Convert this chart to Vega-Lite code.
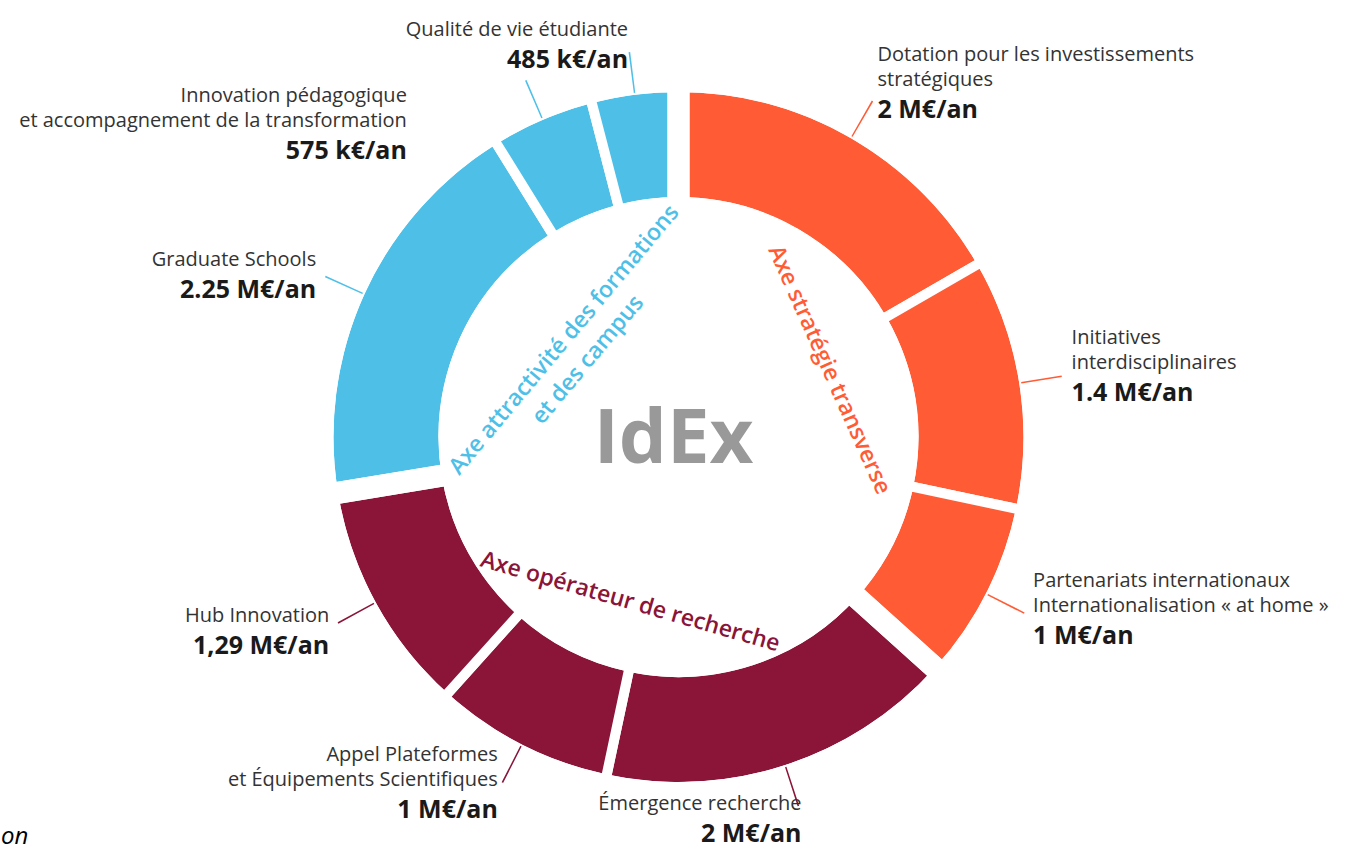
{
  "$schema": "https://vega.github.io/schema/vega-lite/v6.json",
  "width": 1337,
  "height": 848,
  "autosize": {"type": "none"},
  "padding": {"left": 10, "top": 13, "right": 0, "bottom": 0},
  "background": "white",
  "config": {"view": {"stroke": null}, "text": {"font": "Open Sans"}, "title": {"font": "Open Sans"}},
  "title": {"text": "on", "orient": "bottom", "anchor": "start", "frame": "group", "fontSize": 24, "fontStyle": "italic", "fontWeight": "normal", "color": "#000000", "dx": -9, "offset": -84},
  "data": {"values": [
    {"poste": "Dotation pour les investissements\nstratégiques", "montant": 2, "valeur": "2 M€/an", "groupe": "S", "axe": "Axe stratégie transverse", "ordre": 1},
    {"poste": "Initiatives\ninterdisciplinaires", "montant": 1.4, "valeur": "1.4 M€/an", "groupe": "S", "axe": "Axe stratégie transverse", "ordre": 2},
    {"poste": "Partenariats internationaux\nInternationalisation « at home »", "montant": 1, "valeur": "1 M€/an", "groupe": "S", "axe": "Axe stratégie transverse", "ordre": 3},
    {"poste": "Émergence recherche", "montant": 2, "valeur": "2 M€/an", "groupe": "O", "axe": "Axe opérateur de recherche", "ordre": 4},
    {"poste": "Appel Plateformes\net Équipements Scientifiques", "montant": 1, "valeur": "1 M€/an", "groupe": "O", "axe": "Axe opérateur de recherche", "ordre": 5},
    {"poste": "Hub Innovation", "montant": 1.29, "valeur": "1,29 M€/an", "groupe": "O", "axe": "Axe opérateur de recherche", "ordre": 6},
    {"poste": "Graduate Schools", "montant": 2.25, "valeur": "2.25 M€/an", "groupe": "A", "axe": "Axe attractivité des formations\net des campus", "ordre": 7},
    {"poste": "Innovation pédagogique\net accompagnement de la transformation", "montant": 0.575, "valeur": "575 k€/an", "groupe": "A", "axe": "Axe attractivité des formations\net des campus", "ordre": 8},
    {"poste": "Qualité de vie étudiante", "montant": 0.485, "valeur": "485 k€/an", "groupe": "A", "axe": "Axe attractivité des formations\net des campus", "ordre": 9}
  ]},
  "layer": [
    {
      "mark": {"type": "arc", "outerRadius": 350, "innerRadius": 235, "stroke": "white", "strokeWidth": 10},
      "encoding": {
        "theta": {"field": "montant", "type": "quantitative", "stack": true},
        "order": {"field": "ordre", "type": "quantitative"},
        "color": {"field": "groupe", "type": "nominal", "scale": {"domain": ["S", "O", "A"], "range": ["#FF5C36", "#8A1538", "#4EC0E8"]}, "legend": null}
      }
    },
    {
      "transform": [{"aggregate": [{"op": "sum", "field": "montant", "as": "montant"}, {"op": "min", "field": "ordre", "as": "ordre"}], "groupby": ["groupe", "axe"]}],
      "mark": {"type": "arc", "outerRadius": 356, "innerRadius": 229, "stroke": "white", "strokeWidth": 22, "fill": "white", "fillOpacity": 0},
      "encoding": {
        "theta": {"field": "montant", "type": "quantitative", "stack": true},
        "order": {"field": "ordre", "type": "quantitative"},
        "detail": {"field": "groupe"}
      }
    },
    {
      "transform": [
        {"stack": "montant", "groupby": [], "sort": [{"field": "ordre", "order": "ascending"}], "as": ["t0", "t1"]},
        {"calculate": "(datum.t0 + datum.t1) / 2 - 0.004", "as": "m0"},
        {"calculate": "(datum.t0 + datum.t1) / 2 + 0.004", "as": "m1"}
      ],
      "mark": {"type": "arc", "outerRadius": 388, "innerRadius": 347},
      "encoding": {
        "theta": {"field": "m0", "type": "quantitative", "stack": null},
        "theta2": {"field": "m1"},
        "color": {"field": "groupe", "type": "nominal", "legend": null}
      }
    },
    {
      "mark": {"type": "text", "radius": 398, "align": "left", "baseline": "bottom", "dy": -27, "fontSize": 20, "color": "#333333", "lineBreak": "\n", "lineHeight": 25},
      "encoding": {
        "theta": {"field": "montant", "type": "quantitative", "stack": true},
        "order": {"field": "ordre", "type": "quantitative"},
        "detail": {"field": "poste"},
        "text": {"condition": {"test": "datum.groupe === 'S'", "field": "poste", "type": "nominal"}, "value": ""}
      }
    },
    {
      "mark": {"type": "text", "radius": 398, "align": "left", "baseline": "top", "dy": 6, "fontSize": 25, "fontWeight": "bold", "color": "#1a1a1a"},
      "encoding": {
        "theta": {"field": "montant", "type": "quantitative", "stack": true},
        "order": {"field": "ordre", "type": "quantitative"},
        "detail": {"field": "poste"},
        "text": {"condition": {"test": "datum.groupe === 'S'", "field": "valeur", "type": "nominal"}, "value": ""}
      }
    },
    {
      "mark": {"type": "text", "radius": 398, "align": "right", "baseline": "bottom", "dy": -2, "fontSize": 20, "color": "#333333", "lineBreak": "\n", "lineHeight": 25},
      "encoding": {
        "theta": {"field": "montant", "type": "quantitative", "stack": true},
        "order": {"field": "ordre", "type": "quantitative"},
        "detail": {"field": "poste"},
        "text": {"condition": {"test": "datum.groupe !== 'S' && datum.ordre !== 8 && datum.ordre !== 5", "field": "poste", "type": "nominal"}, "value": ""}
      }
    },
    {
      "mark": {"type": "text", "radius": 398, "align": "right", "baseline": "bottom", "dy": -27, "fontSize": 20, "color": "#333333", "lineBreak": "\n", "lineHeight": 25},
      "encoding": {
        "theta": {"field": "montant", "type": "quantitative", "stack": true},
        "order": {"field": "ordre", "type": "quantitative"},
        "detail": {"field": "poste"},
        "text": {"condition": {"test": "datum.ordre === 5", "field": "poste", "type": "nominal"}, "value": ""}
      }
    },
    {
      "mark": {"type": "text", "radius": 398, "align": "right", "baseline": "top", "dy": 6, "fontSize": 25, "fontWeight": "bold", "color": "#1a1a1a"},
      "encoding": {
        "theta": {"field": "montant", "type": "quantitative", "stack": true},
        "order": {"field": "ordre", "type": "quantitative"},
        "detail": {"field": "poste"},
        "text": {"condition": {"test": "datum.groupe !== 'S' && datum.ordre !== 8", "field": "valeur", "type": "nominal"}, "value": ""}
      }
    },
    {
      "mark": {"type": "text", "radius": 398, "align": "right", "baseline": "bottom", "dx": -115, "dy": 35, "fontSize": 20, "color": "#333333", "lineBreak": "\n", "lineHeight": 25},
      "encoding": {
        "theta": {"field": "montant", "type": "quantitative", "stack": true},
        "order": {"field": "ordre", "type": "quantitative"},
        "detail": {"field": "poste"},
        "text": {"condition": {"test": "datum.ordre === 8", "field": "poste", "type": "nominal"}, "value": ""}
      }
    },
    {
      "mark": {"type": "text", "radius": 398, "align": "right", "baseline": "top", "dx": -115, "dy": 68, "fontSize": 25, "fontWeight": "bold", "color": "#1a1a1a"},
      "encoding": {
        "theta": {"field": "montant", "type": "quantitative", "stack": true},
        "order": {"field": "ordre", "type": "quantitative"},
        "detail": {"field": "poste"},
        "text": {"condition": {"test": "datum.ordre === 8", "field": "valeur", "type": "nominal"}, "value": ""}
      }
    },
    {
      "transform": [{"aggregate": [{"op": "sum", "field": "montant", "as": "montant"}, {"op": "min", "field": "ordre", "as": "ordre"}], "groupby": ["groupe", "axe"]}],
      "mark": {"type": "text", "radius": 165, "angle": 66, "align": "center", "baseline": "middle", "fontSize": 23, "fontWeight": 600, "color": "#FF5C36"},
      "encoding": {
        "theta": {"field": "montant", "type": "quantitative", "stack": true},
        "order": {"field": "ordre", "type": "quantitative"},
        "detail": {"field": "groupe"},
        "text": {"condition": {"test": "datum.groupe === 'S'", "field": "axe", "type": "nominal"}, "value": ""}
      }
    },
    {
      "transform": [{"aggregate": [{"op": "sum", "field": "montant", "as": "montant"}, {"op": "min", "field": "ordre", "as": "ordre"}], "groupby": ["groupe", "axe"]}],
      "mark": {"type": "text", "radius": 172, "angle": 16, "align": "center", "baseline": "middle", "fontSize": 23, "fontWeight": 600, "color": "#8A1538"},
      "encoding": {
        "theta": {"field": "montant", "type": "quantitative", "stack": true},
        "order": {"field": "ordre", "type": "quantitative"},
        "detail": {"field": "groupe"},
        "text": {"condition": {"test": "datum.groupe === 'O'", "field": "axe", "type": "nominal"}, "value": ""}
      }
    },
    {
      "transform": [{"aggregate": [{"op": "sum", "field": "montant", "as": "montant"}, {"op": "min", "field": "ordre", "as": "ordre"}], "groupby": ["groupe", "axe"]}],
      "mark": {"type": "text", "radius": 150, "angle": 310, "align": "center", "baseline": "middle", "fontSize": 23, "fontWeight": 600, "color": "#4EC0E8", "lineBreak": "\n", "lineHeight": 31},
      "encoding": {
        "theta": {"field": "montant", "type": "quantitative", "stack": true},
        "order": {"field": "ordre", "type": "quantitative"},
        "detail": {"field": "groupe"},
        "text": {"condition": {"test": "datum.groupe === 'A'", "field": "axe", "type": "nominal"}, "value": ""}
      }
    },
    {
      "data": {"values": [{"sigle": "IdEx"}]},
      "mark": {"type": "text", "align": "center", "baseline": "middle", "dx": -5, "dy": 3, "fontSize": 76, "fontWeight": "bold", "color": "#999999"},
      "encoding": {"text": {"field": "sigle", "type": "nominal"}}
    }
  ]
}
